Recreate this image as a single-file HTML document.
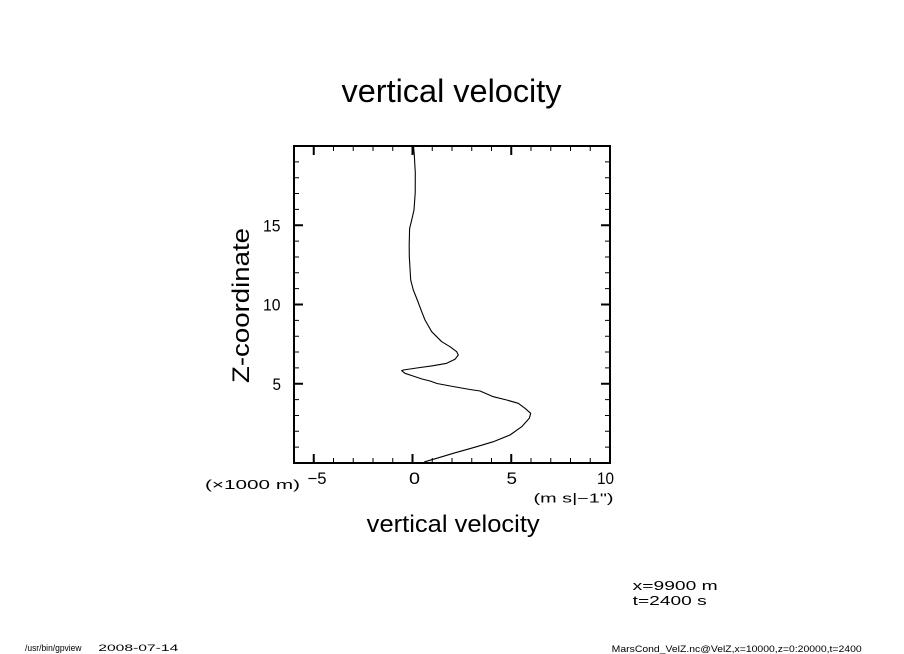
<!DOCTYPE html>
<html>
<head>
<meta charset="utf-8">
<style>
html,body{margin:0;padding:0;background:#fff;}
svg{display:block;}
text{font-family:"Liberation Sans",sans-serif;fill:#000;}
</style>
</head>
<body>
<svg width="904" height="654" viewBox="0 0 904 654" xmlns="http://www.w3.org/2000/svg">
<rect width="904" height="654" fill="#fff"/>

<!-- title -->
<text x="341.5" y="102" font-size="32" textLength="220" lengthAdjust="spacingAndGlyphs">vertical velocity</text>

<!-- frame -->
<rect x="294" y="146" width="316" height="317" fill="none" stroke="#000" stroke-width="2"/>

<g stroke="#000" stroke-width="1">
  <path d="M333.5 463v-5M353.25 463v-5M373 463v-5M392.75 463v-5M432.25 463v-5M452 463v-5M471.75 463v-5M491.5 463v-5M531 463v-5M550.75 463v-5M570.5 463v-5M590.25 463v-5"/>
  <path d="M333.5 146v5M353.25 146v5M373 146v5M392.75 146v5M432.25 146v5M452 146v5M471.75 146v5M491.5 146v5M531 146v5M550.75 146v5M570.5 146v5M590.25 146v5"/>
  <path d="M294 447.15h5M294 431.3h5M294 415.45h5M294 399.6h5M294 367.9h5M294 352.05h5M294 336.2h5M294 320.35h5M294 288.65h5M294 272.8h5M294 256.95h5M294 241.1h5M294 209.4h5M294 193.55h5M294 177.7h5M294 161.85h5"/>
  <path d="M610 447.15h-5M610 431.3h-5M610 415.45h-5M610 399.6h-5M610 367.9h-5M610 352.05h-5M610 336.2h-5M610 320.35h-5M610 288.65h-5M610 272.8h-5M610 256.95h-5M610 241.1h-5M610 209.4h-5M610 193.55h-5M610 177.7h-5M610 161.85h-5"/>
</g>
<g stroke="#000" stroke-width="2">
  <path d="M313.75 463v-9M412.5 463v-9M511.25 463v-9"/>
  <path d="M313.75 146v9M412.5 146v9M511.25 146v9"/>
  <path d="M294 383.75h9M294 304.5h9M294 225.25h9"/>
  <path d="M610 383.75h-9M610 304.5h-9M610 225.25h-9"/>
</g>

<!-- curve -->
<polyline fill="none" stroke="#000" stroke-width="1.1" stroke-linejoin="round"
 points="413.5,146 414.3,155 415.3,173 415.2,193 414,210 411.7,220 409.6,228.5 409.2,245 409.3,256.7 410.7,280 413.3,290 417.3,300 421.7,311.7 425,320 431.7,331.7 441.7,341.7 450,346.7 456.7,351.7 458.3,355 455,359.3 446.7,363.3 433.3,365.7 416.7,368 403.3,370 401.7,370.7 405,373.3 413,376 422,379 430,381 437,383.5 453,386.5 470,389.5 480,391 487,394 493.3,396.7 506.7,400 518.3,403.3 525,408.3 530.7,413.3 529.3,418.3 521.7,426.7 510,435 493.3,441.7 476.7,446.7 453.3,453.3 436.7,458.3 425,461.7 423.3,463"/>

<!-- x tick labels -->
<text x="307.5" y="484" font-size="16.5" textLength="19" lengthAdjust="spacingAndGlyphs">−5</text>
<text x="409" y="484" font-size="16.5" textLength="11" lengthAdjust="spacingAndGlyphs">0</text>
<text x="506.5" y="484" font-size="16.5" textLength="10.5" lengthAdjust="spacingAndGlyphs">5</text>
<text x="597" y="484" font-size="16.5" textLength="17" lengthAdjust="spacingAndGlyphs">10</text>

<!-- y tick labels -->
<text x="263" y="231.3" font-size="16.5" textLength="17.5" lengthAdjust="spacingAndGlyphs">15</text>
<text x="263" y="310.5" font-size="16.5" textLength="17.5" lengthAdjust="spacingAndGlyphs">10</text>
<text x="272.5" y="389.8" font-size="16.5" textLength="8.5" lengthAdjust="spacingAndGlyphs">5</text>

<!-- units -->
<text x="205" y="489" font-size="12.5" textLength="95" lengthAdjust="spacingAndGlyphs">(×1000 m)</text>
<text x="533.5" y="502.5" font-size="12.5" textLength="80" lengthAdjust="spacingAndGlyphs">(m s|−1")</text>

<!-- axis labels -->
<text x="366.7" y="532" font-size="24" textLength="173" lengthAdjust="spacingAndGlyphs">vertical velocity</text>
<text transform="translate(249,383) rotate(-90)" x="0" y="0" font-size="24" textLength="155" lengthAdjust="spacingAndGlyphs">Z-coordinate</text>

<!-- info text -->
<text x="632.7" y="590" font-size="12.5" textLength="85" lengthAdjust="spacingAndGlyphs">x=9900 m</text>
<text x="632.7" y="605" font-size="12.5" textLength="74" lengthAdjust="spacingAndGlyphs">t=2400 s</text>

<!-- footer -->
<text x="25" y="651" font-size="9.5" textLength="56.5" lengthAdjust="spacingAndGlyphs">/usr/bin/gpview</text>
<text x="98.3" y="651" font-size="9.5" textLength="80" lengthAdjust="spacingAndGlyphs">2008-07-14</text>
<text x="611.7" y="652" font-size="9.5" textLength="250" lengthAdjust="spacingAndGlyphs">MarsCond_VelZ.nc@VelZ,x=10000,z=0:20000,t=2400</text>
</svg>
</body>
</html>
